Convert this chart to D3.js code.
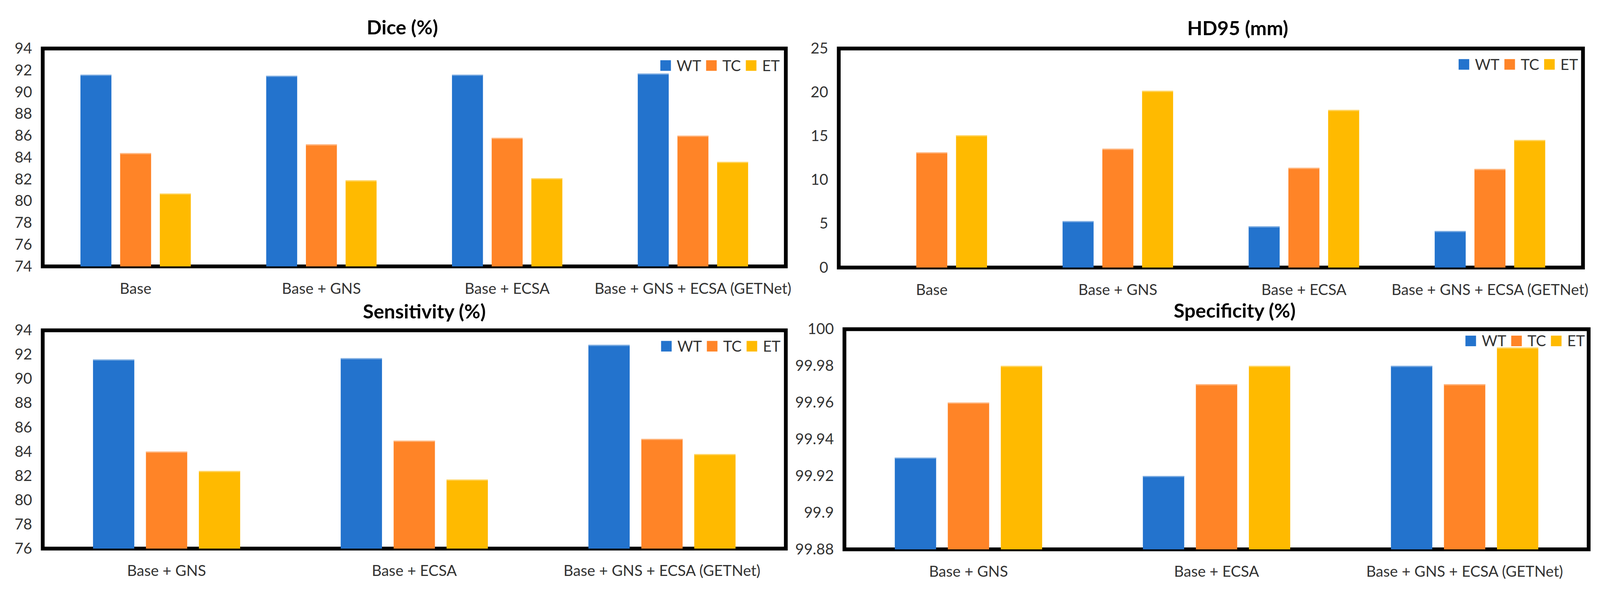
<!DOCTYPE html>
<meta charset="utf-8" />
<style>
  html, body { margin: 0; padding: 0; background: #fff; overflow: hidden; }
  #chart svg { display: block; }
  svg text { font-family: Lato, "Open Sans", sans-serif; }
</style>
<body>
<div id="chart"></div>
<script src="https://cdn.jsdelivr.net/npm/d3@7"></script>
<script>
  // categories
  const cats4 = ["Base", "Base + GNS", "Base + ECSA", "Base + GNS + ECSA (GETNet)"];
  const cats3 = ["Base + GNS", "Base + ECSA", "Base + GNS + ECSA (GETNet)"];
  const seriesNames = ["WT", "TC", "ET"];
  const seriesColors = ["#2373CD", "#FF8427", "#FFBA00"];

  // Dice (%)
  const diceWT = [91.6, 91.5, 91.6, 91.7];
  const diceTC = [84.4, 85.2, 85.8, 86.0];
  const diceET = [80.7, 81.9, 82.1, 83.6];
  const diceTicks = [74, 76, 78, 80, 82, 84, 86, 88, 90, 92, 94];

  // HD95 (mm)  (no WT value for Base)
  const hdWT = [null, 5.3, 4.7, 4.17];
  const hdTC = [13.15, 13.56, 11.38, 11.25];
  const hdET = [15.1, 20.17, 17.99, 14.56];
  const hdTicks = [0, 5, 10, 15, 20, 25];

  // Sensitivity (%)
  const sensWT = [91.6, 91.7, 92.8];
  const sensTC = [84.0, 84.9, 85.05];
  const sensET = [82.4, 81.7, 83.8];
  const sensTicks = [76, 78, 80, 82, 84, 86, 88, 90, 92, 94];

  // Specificity (%)
  const specWT = [99.93, 99.92, 99.98];
  const specTC = [99.96, 99.97, 99.97];
  const specET = [99.98, 99.98, 99.99];
  const specTicks = [99.88, 99.9, 99.92, 99.94, 99.96, 99.98, 100];

  const W = 4231, H = 1533;
  // scale the drawing to whatever the window really is
  const svg = d3.select("#chart").append("svg")
    .attr("viewBox", "0 0 " + W + " " + H)
    .attr("preserveAspectRatio", "xMidYMid meet")
    .style("width", "100vw").style("height", "100vh");
  svg.append("rect").attr("width", W).attr("height", H).attr("fill", "#fff");

  const panels = [
    { title: "Dice (%)", cats: cats4, vals: [diceWT, diceTC, diceET], ticks: diceTicks,
      left: 113, right: 2078, top: 103, bottom: 679, titleX: 1064, titleY: 66, legDy: 45, legRight: 16 },
    { title: "HD95 (mm)", cats: cats4, vals: [hdWT, hdTC, hdET], ticks: hdTicks,
      left: 2218, right: 4186, top: 103, bottom: 682, titleX: 3273, titleY: 68, legDy: 42, legRight: 13 },
    { title: "Sensitivity (%)", cats: cats3, vals: [sensWT, sensTC, sensET], ticks: sensTicks,
      left: 113, right: 2078, top: 848, bottom: 1425, titleX: 1122, titleY: 817, legDy: 42, legRight: 14 },
    { title: "Specificity (%)", cats: cats3, vals: [specWT, specTC, specET], ticks: specTicks,
      left: 2233, right: 4201, top: 845, bottom: 1427, titleX: 3265, titleY: 815, legDy: 31, legRight: 10 },
  ];

  panels.forEach((p) => {
    let g = svg.append("g");

    let x0 = d3.scaleBand().domain(p.cats).range([p.left, p.right]);
    let x1 = d3.scaleBand().domain(seriesNames).range([0, x0.bandwidth()])
      .paddingInner(0.22).paddingOuter(0.95);
    let y = d3.scaleLinear().domain([p.ticks[0], p.ticks[p.ticks.length - 1]]).range([p.bottom, p.top]);

    // frame
    g.append("rect")
      .attr("x", p.left).attr("y", p.top)
      .attr("width", p.right - p.left).attr("height", p.bottom - p.top)
      .attr("fill", "#fff").attr("stroke", "#000").attr("stroke-width", 10);

    // bars
    let rows = [];
    p.cats.forEach((c, i) => {
      seriesNames.forEach((s, j) => {
        if (p.vals[j][i] != null) rows.push({ cat: c, s: s, j: j, v: p.vals[j][i] });
      });
    });
    let bars = g.selectAll(".bar").data(rows).enter().append("g");
    bars.append("rect")
      .attr("x", (d) => x0(d.cat) + x1(d.s))
      .attr("y", (d) => y(d.v))
      .attr("width", x1.bandwidth())
      .attr("height", (d) => p.bottom - y(d.v))
      .attr("fill", (d) => seriesColors[d.j]);
    // the light edge on top of each bar
    bars.append("rect")
      .attr("x", (d) => x0(d.cat) + x1(d.s))
      .attr("y", (d) => y(d.v))
      .attr("width", x1.bandwidth())
      .attr("height", 3)
      .attr("fill", (d) => d3.interpolateRgb(seriesColors[d.j], "#fff")(0.4));

    // y axis
    let ya = g.append("g").attr("transform", "translate(" + p.left + ",0)")
      .call(d3.axisLeft(y).tickValues(p.ticks).tickSize(0).tickPadding(28).tickFormat(d3.format("~f")));
    ya.select(".domain").remove();
    ya.selectAll("text").attr("font-size", "40px").attr("fill", "#333")
      .attr("font-family", "Lato, 'Open Sans', sans-serif");

    // x axis
    let xa = g.append("g").attr("transform", "translate(0," + p.bottom + ")")
      .call(d3.axisBottom(x0).tickSize(0).tickPadding(44));
    xa.select(".domain").remove();
    xa.selectAll("text").attr("font-size", "40px").attr("fill", "#333")
      .attr("font-family", "Lato, 'Open Sans', sans-serif");

    // title
    g.append("text").attr("x", p.titleX).attr("y", p.titleY)
      .attr("text-anchor", "middle").attr("font-size", "52px").attr("font-weight", "bold")
      .attr("fill", "#000").text(p.title);

    // legend
    let leg = g.append("g");
    let cx = 0;
    seriesNames.forEach((s, j) => {
      leg.append("rect").attr("x", cx).attr("y", -14).attr("width", 28).attr("height", 28)
        .attr("fill", seriesColors[j]);
      cx += 28 + 15;
      let t = leg.append("text").attr("x", cx).attr("y", 0).attr("dy", "0.36em")
        .attr("font-size", "40px").attr("fill", "#333").text(s);
      cx += t.node().getComputedTextLength();
      if (j < seriesNames.length - 1) cx += 13;
    });
    leg.attr("transform", "translate(" + (p.right - p.legRight - cx) + "," + (p.top + p.legDy) + ")");
  });
</script>
</body>
